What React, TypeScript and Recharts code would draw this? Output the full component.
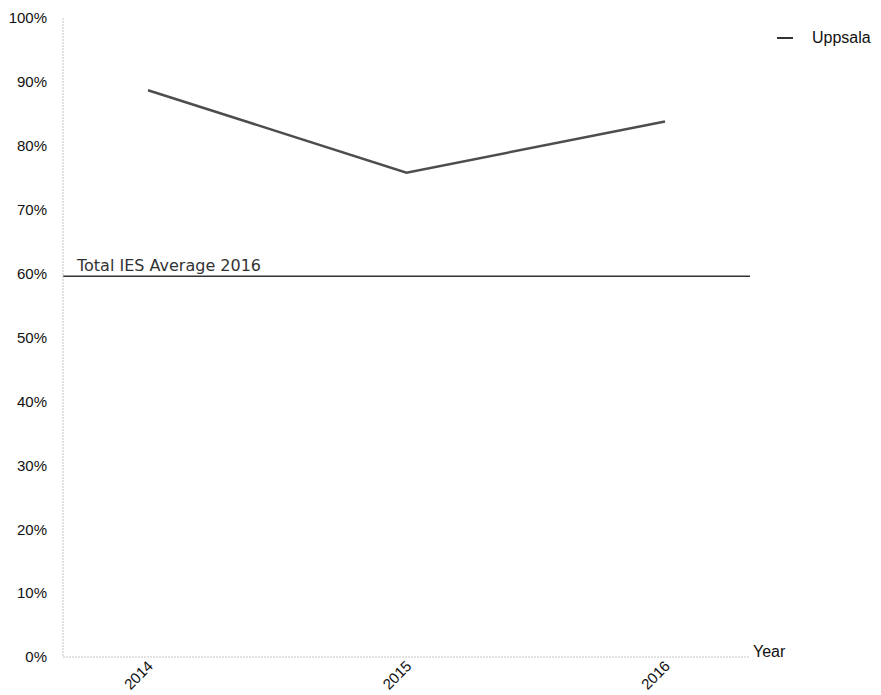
import React from 'react';
import { LineChart, Line, XAxis, YAxis, ReferenceLine, Legend } from 'recharts';

const years = ['2014', '2015', '2016'];
const uppsala = [88.7, 75.8, 83.8];
const yTicks = [0, 10, 20, 30, 40, 50, 60, 70, 80, 90, 100];
const iesAverage = 59.6;

const data = years.map((year, i) => ({ year, Uppsala: uppsala[i] }));

const axisStroke = '#c4c4c4';
const font = 'Arial, "Liberation Sans", sans-serif';

const LegendContent = () => (
  <div style={{ display: 'flex', alignItems: 'center', fontFamily: font, fontSize: 16, color: '#111' }}>
    <span style={{ display: 'inline-block', width: 16, height: 2, background: '#333', marginRight: 19 }} />
    Uppsala
  </div>
);

// rotated year labels
const YearTick = (props: any) => {
  const { x, y, payload } = props;
  return (
    <g transform={`translate(${x + 6},${y - 1}) rotate(-45)`}>
      <text x={0} y={0} textAnchor="end" fill="#111" fontSize={15} fontFamily={font}>
        {payload.value}
      </text>
    </g>
  );
};

const App: React.FC = () => {
  return (
    <div style={{ position: 'absolute', left: 0, top: 0, background: '#fff' }}>
      <LineChart width={881} height={695} data={data} margin={{ top: 18, right: 131, bottom: 0, left: 8 }}>
        <XAxis
          dataKey="year"
          padding={{ left: 85, right: 85 }}
          height={38}
          stroke={axisStroke}
          strokeDasharray="2 1"
          tickLine={false}
          interval={0}
          tick={<YearTick />}
          tickMargin={5}
          label={{ value: 'Year', position: 'right', offset: 3, dy: -25, fill: '#111', fontSize: 16, fontFamily: font }}
        />
        <YAxis
          type="number"
          domain={[0, 100]}
          ticks={yTicks}
          width={55}
          stroke={axisStroke}
          strokeDasharray="2 1"
          tickLine={false}
          tickSize={6}
          tickMargin={10}
          tickFormatter={(v: number) => `${v}%`}
          tick={{ fill: '#111', fontSize: 15, fontFamily: font }}
        />
        <ReferenceLine
          y={iesAverage}
          stroke="#333"
          strokeWidth={1.5}
          label={{
            value: 'Total IES Average 2016',
            position: 'insideBottomLeft',
            offset: 5,
            dx: 9,
            fill: '#333',
            fontSize: 16,
            fontFamily: '"DejaVu Sans", Verdana, sans-serif',
          }}
        />
        <Legend
          verticalAlign="middle"
          content={<LegendContent />}
          wrapperStyle={{ top: 29, left: 777, width: 110 }}
        />
        <Line
          type="linear"
          dataKey="Uppsala"
          stroke="#4d4d4d"
          strokeWidth={2.5}
          dot={false}
          activeDot={false}
          isAnimationActive={false}
        />
      </LineChart>
    </div>
  );
};

export default App;
